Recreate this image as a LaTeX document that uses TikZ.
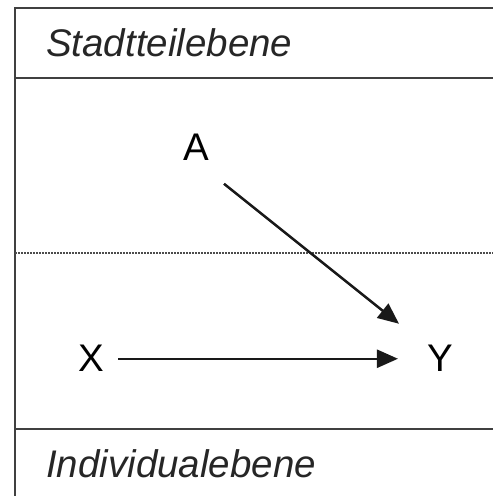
\documentclass[tikz,border=0pt]{standalone}
\usepackage{fontspec}
\setmainfont{Liberation Sans}
\usetikzlibrary{arrows.meta}
\begin{document}
\begin{tikzpicture}[x=1pt,y=1pt,
  frame/.style={line width=2.2pt,draw=black!75},
  sep/.style={line width=1.6pt,draw=black!70,dash pattern=on 1.6pt off 1.4pt},
  var/.style={inner sep=0pt,anchor=base,font=\fontsize{38.5}{46}\selectfont},
  lvl/.style={inner sep=0pt,anchor=base west,font=\fontsize{38.5}{46}\selectfont\itshape,text=black!85},
  arr/.style={line width=2.5pt,draw=black!90,-{Triangle[length=21pt,width=18pt]}}]
\useasboundingbox (0,0) rectangle (493,496);
% frame
\draw[frame] (493,488) -- (15,488) -- (15,0);
\draw[frame] (15,418) -- (493,418);
\draw[frame] (15,67) -- (493,67);
\draw[sep] (15,243) -- (493,243);
% texts
\node[lvl] (top) at (46,439) {Stadtteilebene};
\node[lvl] (bot) at (46,19) {Individualebene};
\node[var] (A) at (196,335) {A};
\node[var] (X) at (91,124) {X};
\node[var] (Y) at (440,124) {Y};
% arrows
\draw[arr] ([xshift=14pt]X.east) -- ([xshift=-29pt]Y.west);
\draw[arr] ([shift={(28,-36)}]A.center) -- ([shift={(-41,35)}]Y.center);
\end{tikzpicture}
\end{document}
